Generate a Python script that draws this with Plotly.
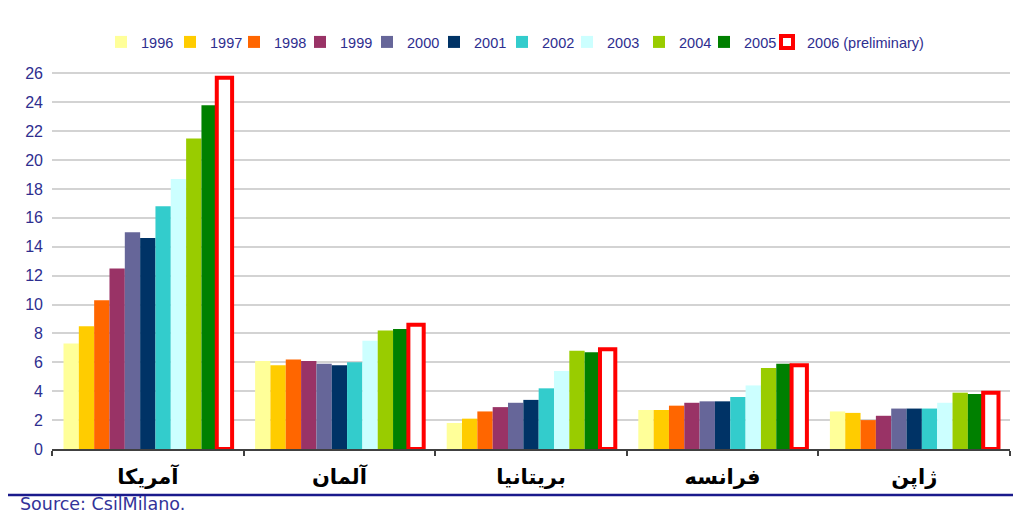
import plotly.graph_objects as go

countries = ["آمریکا", "آلمان", "بریتانیا", "فرانسه", "ژاپن"]
years = ["1996", "1997", "1998", "1999", "2000", "2001", "2002", "2003", "2004", "2005", "2006 (preliminary)"]

v1996 = [7.3, 6.1, 1.8, 2.7, 2.6]
v1997 = [8.5, 5.8, 2.1, 2.7, 2.5]
v1998 = [10.3, 6.2, 2.6, 3.0, 2.0]
v1999 = [12.5, 6.1, 2.9, 3.2, 2.3]
v2000 = [15.0, 5.9, 3.2, 3.3, 2.8]
v2001 = [14.6, 5.8, 3.4, 3.3, 2.8]
v2002 = [16.8, 6.0, 4.2, 3.6, 2.8]
v2003 = [18.7, 7.5, 5.4, 4.4, 3.2]
v2004 = [21.5, 8.2, 6.8, 5.6, 3.9]
v2005 = [23.8, 8.3, 6.7, 5.9, 3.8]
v2006 = [25.7, 8.6, 6.9, 5.8, 3.9]

series = [v1996, v1997, v1998, v1999, v2000, v2001, v2002, v2003, v2004, v2005, v2006]
colors = ["#FFFF99", "#FFCC00", "#FF6600", "#993366", "#666699", "#003366",
          "#33CCCC", "#CCFFFF", "#99CC00", "#008000", "#FFFFFF"]

# layout: page x of each legend swatch centre (one small legend per series)
legend_swatch_x = [126, 195, 259, 325, 392, 459, 527, 592, 664, 729, 792]

NAVY = "#2E2E8F"

# figure sits at an 8px page offset; sizes compensate for it
W, H = 1013, 506
L, R, T, B = 44, 11, 64, 65
PW, PH = W - L - R, H - T - B

fig = go.Figure()
leg_font = dict(family="Liberation Sans, Arial", size=14.5, color=NAVY)
legends = {}
for i, (name, vals, col) in enumerate(zip(years, series, colors)):
    if name.startswith("2006"):
        marker = dict(color=col, line=dict(color="#FF0000", width=4))
    else:
        marker = dict(color=col, line=dict(width=0))
    key = "legend" if i == 0 else f"legend{i + 1}"
    fig.add_trace(go.Bar(name=name, x=countries, y=vals, marker=marker, legend=key,
                         showlegend=True))
    legends[key] = dict(orientation="h", x=(legend_swatch_x[i] - 33 - L) / PW, xanchor="left",
                        y=1 + 30 / PH, yanchor="middle", font=leg_font, itemwidth=30,
                        bgcolor="rgba(0,0,0,0)")

fig.update_layout(
    width=W, height=H, autosize=False, showlegend=True,
    barmode="group", bargap=0.12, bargroupgap=0,
    plot_bgcolor="white", paper_bgcolor="white",
    margin=dict(l=L, r=R, t=T, b=B),
    font=dict(family="Liberation Sans, Arial", color=NAVY, size=14),
    xaxis=dict(showline=True, linecolor="#404040", linewidth=2,
               ticks="outside", tickson="boundaries", ticklen=5, tickcolor="#404040",
               tickwidth=1.5, ticklabelstandoff=8,
               tickfont=dict(family="DejaVu Sans", size=21, color="#000000", weight="bold"),
               showgrid=False),
    yaxis=dict(range=[0, 26.1], tickvals=list(range(0, 27, 2)),
               showgrid=True, gridcolor="#D3D3D3", gridwidth=2,
               zeroline=False, showline=False, ticks="",
               ticklabelstandoff=8,
               tickfont=dict(family="Liberation Sans, Arial", size=16, color=NAVY)),
    **legends,
)

fig.add_shape(type="line", xref="paper", yref="paper",
              x0=-L / PW, x1=1 + R / PW,
              y0=-(495 - 449) / PH, y1=-(495 - 449) / PH,
              line=dict(color="#1A1A8C", width=2.5))

fig.add_annotation(text="Source: CsilMilano.", xref="paper", yref="paper",
                   x=(10 - L) / PW, y=-(504 - 449) / PH, xanchor="left", yanchor="middle",
                   showarrow=False,
                   font=dict(family="DejaVu Sans", size=17.5, color="#333399"))

fig.write_html("out.html")
